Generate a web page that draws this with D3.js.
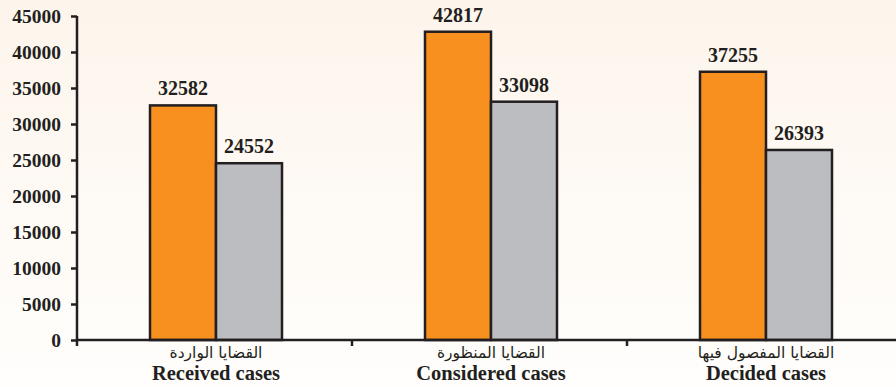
<!DOCTYPE html>
<html>
<head>
<meta charset="utf-8">
<script src="https://cdn.jsdelivr.net/npm/d3@7"></script>
<style>
  html, body { margin: 0; padding: 0; }
  body { width: 896px; height: 387px; overflow: hidden; }
</style>
</head>
<body>
<div id="chart"></div>
<script>
// data
const categoriesEn = ["Received cases", "Considered cases", "Decided cases"];
const categoriesAr = ["القضايا الواردة", "القضايا المنظورة", "القضايا المفصول فيها"];
const seriesA = [32582, 42817, 37255]; // orange
const seriesB = [24552, 33098, 26393]; // gray
const yTicks = [0, 5000, 10000, 15000, 20000, 25000, 30000, 35000, 40000, 45000];

const width = 896, height = 387;
const margin = {left: 77, top: 16, bottom: 47};
const plotRight = 902; // axis runs past the right edge

const svg = d3.select("#chart").append("svg")
  .attr("width", width)
  .attr("height", height);

// cream background fading to white
const grad = svg.append("defs").append("linearGradient")
  .attr("id", "bg").attr("x1", 0).attr("y1", 0).attr("x2", 0).attr("y2", 1);
grad.append("stop").attr("offset", "0%").attr("stop-color", "#fdf5ec");
grad.append("stop").attr("offset", "100%").attr("stop-color", "#fffefc");
svg.append("rect").attr("width", width).attr("height", height).attr("fill", "url(#bg)");

const x = d3.scaleBand()
  .domain(categoriesEn)
  .range([margin.left, plotRight]);

const x1 = d3.scaleBand()
  .domain(["a", "b"])
  .range([0, 132]);

const y = d3.scaleLinear()
  .domain([0, 45000])
  .range([height - margin.bottom, margin.top]);

const serif = "'Liberation Serif', 'Times New Roman', serif";
const ink = "#231f20";

// bars
const groups = svg.selectAll("g.grp")
  .data(categoriesEn)
  .join("g")
  .attr("class", "grp")
  .attr("transform", d => `translate(${x(d) + x.bandwidth() / 2 - 66 + 1.5},0)`);

groups.each(function(d, i) {
  const g = d3.select(this);
  const vals = [{k: "a", v: seriesA[i], c: "#f7901e"}, {k: "b", v: seriesB[i], c: "#bcbdc0"}];
  g.selectAll("rect")
    .data(vals)
    .join("rect")
    .attr("x", v => x1(v.k))
    .attr("y", v => y(v.v))
    .attr("width", x1.bandwidth())
    .attr("height", v => y(0) - y(v.v))
    .attr("fill", v => v.c)
    .attr("stroke", ink)
    .attr("stroke-width", 2.5);
  g.selectAll("text")
    .data(vals)
    .join("text")
    .attr("x", v => x1(v.k) + x1.bandwidth() / 2)
    .attr("y", v => y(v.v) - 10)
    .attr("text-anchor", "middle")
    .attr("font-family", serif)
    .attr("font-weight", "bold")
    .attr("font-size", 20)
    .attr("fill", ink)
    .text(v => v.v);
});

// y axis
const yAxis = svg.append("g")
  .attr("transform", `translate(${margin.left},0)`)
  .call(d3.axisLeft(y).tickValues(yTicks).tickSize(6).tickSizeOuter(0).tickPadding(10).tickFormat(d3.format("d")));
yAxis.select(".domain").attr("stroke", ink).attr("stroke-width", 2.5)
  .attr("d", `M0,${y(45000)}V${y(0) + 6}`);
yAxis.selectAll(".tick line").attr("stroke", ink).attr("stroke-width", 2.5);
yAxis.selectAll(".tick text")
  .attr("font-family", serif).attr("font-weight", "bold").attr("font-size", 19.5).attr("fill", ink);

// x axis
const xAxisG = svg.append("g").attr("transform", `translate(0,${y(0)})`);
xAxisG.append("line")
  .attr("x1", margin.left).attr("x2", plotRight)
  .attr("stroke", ink).attr("stroke-width", 2.5);
xAxisG.selectAll("line.sep")
  .data(categoriesEn.slice(1))
  .join("line")
  .attr("class", "sep")
  .attr("x1", d => x(d)).attr("x2", d => x(d))
  .attr("y1", 0).attr("y2", 6)
  .attr("stroke", ink).attr("stroke-width", 2.5);

xAxisG.selectAll("text.ar")
  .data(categoriesAr)
  .join("text")
  .attr("class", "ar")
  .attr("x", (d, i) => x(categoriesEn[i]) + x.bandwidth() / 2 + 1.5)
  .attr("y", 18)
  .attr("text-anchor", "middle")
  .attr("font-family", "'DejaVu Sans', sans-serif")
  .attr("font-size", 15.5)
  .attr("fill", ink)
  .text(d => d);

xAxisG.selectAll("text.en")
  .data(categoriesEn)
  .join("text")
  .attr("class", "en")
  .attr("x", d => x(d) + x.bandwidth() / 2 + 1.5)
  .attr("y", 40)
  .attr("text-anchor", "middle")
  .attr("font-family", serif)
  .attr("font-weight", "bold")
  .attr("font-size", 20.5)
  .attr("fill", ink)
  .text(d => d);
</script>
</body>
</html>
